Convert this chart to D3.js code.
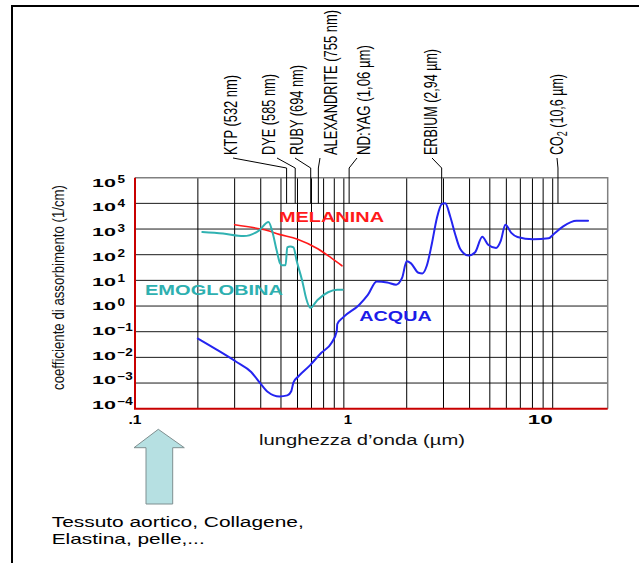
<!DOCTYPE html>
<html>
<head>
<meta charset="utf-8">
<script src="https://cdn.jsdelivr.net/npm/d3@7"></script>
<style>
  body { margin: 0; background: #fff; }
  svg { display: block; }
  text { font-family: "Liberation Sans", Arial, Helvetica, sans-serif; }
</style>
</head>
<body>
<svg id="chart" width="639" height="563"></svg>
<script>
// ---- data -------------------------------------------------------------
// wavelength axis (µm), log decades
const xDecades = [0.1, 1, 10];
const xDecadeText = [".1", "1", "10"];
const xMinor = [0.2, 0.3, 0.4, 0.5, 0.6, 0.7, 0.8, 0.9, 2, 3, 4, 5, 6, 7, 8, 9];
// absorption coefficient axis (1/cm), powers of ten
const yExponents = [5, 4, 3, 2, 1, 0, -1, -2, -3, -4];

// laser emission lines
const laserNames = ["KTP (532 nm)", "DYE (585 nm)", "RUBY (694 nm)", "ALEXANDRITE (755 nm)",
                    "ND:YAG (1,06 µm)", "ERBIUM (2,94 µm)", "CO2 (10,6 µm)"];
const laserWavelengths = [0.532, 0.585, 0.694, 0.755, 1.06, 2.94, 10.6];

// absorption spectra: [wavelength µm, coefficient 1/cm]
const melanina = [[0.30, 1480], [0.40, 1000], [0.43, 870], [0.49, 620], [0.60, 400],
                  [0.75, 170], [0.87, 75], [0.98, 37]];
const emoglobina = [[0.21, 770], [0.264, 670], [0.331, 530], [0.392, 870], [0.436, 1860],
                    [0.454, 820], [0.477, 145], [0.495, 46], [0.505, 39], [0.526, 39],
                    [0.536, 193], [0.554, 210], [0.574, 193], [0.594, 59], [0.633, 9.1],
                    [0.66, 2.0], [0.691, 0.85], [0.748, 1.73], [0.84, 3.45], [0.93, 4.3],
                    [0.987, 4.3]];
const acqua = [[0.2, 0.054], [0.246, 0.02], [0.304, 0.0069], [0.36, 0.0027], [0.4, 0.00093],
               [0.433, 0.00045], [0.492, 0.0003], [0.536, 0.00033], [0.56, 0.00048],
               [0.574, 0.00107], [0.605, 0.0018], [0.69, 0.005], [0.778, 0.0148],
               [0.874, 0.037], [0.925, 0.107], [0.93, 0.198], [0.995, 0.37], [1.183, 1.1],
               [1.303, 2.7], [1.436, 9.1], [1.614, 8.3], [1.78, 6.8], [1.9, 12.4], [2.0, 55],
               [2.097, 46], [2.275, 19.8], [2.377, 18.6], [2.495, 37], [2.637, 260],
               [2.788, 2650], [2.946, 9500], [3.056, 10000], [3.231, 3080], [3.415, 616],
               [3.608, 168], [3.956, 93], [4.254, 125], [4.601, 500], [4.91, 244],
               [5.357, 183], [5.64, 345], [5.938, 1475], [6.335, 707], [6.782, 488],
               [8.05, 400], [9.56, 435], [10.07, 616], [11.23, 1270], [13.01, 2100],
               [14.77, 2100]];

// ---- layout -----------------------------------------------------------
const svg = d3.select("#chart");
const x = d3.scaleLog().domain([0.1, 18.34]).range([135, 607.7]);
const y = d3.scaleLog().domain([1e-4, 1e5]).range([408.7, 177.7]);
const [x0, x1] = x.range();
const [yBot, yTop] = y.range();

// text with a horizontal stretch (sx) and optional vertical orientation;
// w is the final on-screen length along the reading direction
function label(parent, str, o) {
  const sx = o.sx || 1;
  const t = parent.append("text")
    .attr("transform", `translate(${o.x},${o.y}) scale(${sx},1)` + (o.rot ? " rotate(-90)" : ""))
    .attr("font-size", o.size)
    .attr("text-anchor", o.anchor || "start");
  if (o.weight) t.attr("font-weight", o.weight);
  t.attr("fill", o.fill || "#000");
  if (str !== null) t.text(str);
  if (o.w) t.attr("textLength", o.rot ? o.w : o.w / sx).attr("lengthAdjust", "spacingAndGlyphs");
  return t;
}

// page frame
svg.append("path").attr("d", "M12,570 V6 H650")
  .attr("fill", "none").attr("stroke", "#000").attr("stroke-width", 2);

// ---- grid -------------------------------------------------------------
const grid = svg.append("g");
grid.selectAll("line.h").data(yExponents.filter(e => e < 5 && e > -4)).join("line")
  .attr("x1", x0).attr("x2", x1)
  .attr("y1", e => y(Math.pow(10, e))).attr("y2", e => y(Math.pow(10, e)))
  .attr("stroke", "#1a1a1a").attr("stroke-width", 1);
grid.selectAll("line.v").data(xMinor.concat([1, 10])).join("line")
  .attr("x1", d => x(d)).attr("x2", d => x(d))
  .attr("y1", yTop).attr("y2", yBot)
  .attr("stroke", "#000").attr("stroke-width", 1);
// top and right border
grid.append("path").attr("d", `M${x0},${yTop} H${x1} V${yBot}`)
  .attr("fill", "none").attr("stroke", "#808080").attr("stroke-width", 1.5);
// axes in red
grid.append("path").attr("d", `M${x0},${yTop} V${yBot} H${x1}`)
  .attr("fill", "none").attr("stroke", "#c80000").attr("stroke-width", 2);

// ---- y tick labels ----------------------------------------------------
const labelRow = d3.scaleLinear().domain([5, -4]).range([186.7, 409]);
const yl = svg.append("g");
yExponents.forEach(e => {
  const yb = labelRow(e);
  label(yl, "10", { x: 92, y: yb, size: 10.5, weight: "bold", sx: 2.05 });
  const sup = e < 0 ? "\u2212" + (-e) : String(e);
  label(yl, sup, { x: 117.5, y: yb - 4, size: 10, weight: "bold", sx: 1.35 });
});

// y title
label(svg, "coefficiente di assorbimento (1/cm)",
      { x: 63.5, y: 287.5, size: 13, sx: 1.3, rot: true, anchor: "middle", w: 205, fill: "#111" });

// ---- x tick labels ----------------------------------------------------
const xAnchor = ["middle", "start", "end"];
const xStretch = [1.25, 1.2, 1.8];
xDecades.forEach((v, i) => {
  label(svg, xDecadeText[i], { x: x(v), y: 424, size: 12.5, weight: "bold",
                               anchor: xAnchor[i], sx: xStretch[i] });
});
label(svg, "lunghezza d\u2019onda (\u00b5m)",
      { x: 362, y: 445, size: 15, anchor: "middle", sx: 1.35, w: 206, fill: "#111" });

// ---- laser lines ------------------------------------------------------
const labelCol = [237, 275, 303, 337, 370, 437, 563];
const labelLen = [80, 81, 90, 145, 110, 106, 81];
const leadFrom = [233, 277, 295, 320, 357, 432, 557];
const lz = svg.append("g");
laserWavelengths.forEach((w, i) => {
  const tx = x(w);
  lz.append("path")
    .attr("d", `M${leadFrom[i]},158 L${tx},168 V${y(1e4)}`)
    .attr("fill", "none").attr("stroke", "#000").attr("stroke-width", 1);
  const name = laserNames[i];
  const isCO2 = name.startsWith("CO2");
  const t = label(lz, isCO2 ? null : name,
                  { x: labelCol[i], y: 155, size: 13, sx: 1.45, rot: true, w: labelLen[i] });
  if (isCO2) {
    t.append("tspan").text("CO");
    t.append("tspan").attr("font-size", 9.5).attr("dy", 3).text("2");
    t.append("tspan").attr("dy", -3).text(name.slice(3));
  }
});

// ---- spectra ----------------------------------------------------------
const line = d3.line().x(d => x(d[0])).y(d => y(d[1])).curve(d3.curveMonotoneX);
const curves = svg.append("g").attr("fill", "none")
  .attr("stroke-linejoin", "round").attr("stroke-linecap", "round");
curves.append("path").datum(melanina).attr("d", line)
  .attr("stroke", "#ff1a1a").attr("stroke-width", 1.6);
curves.append("path").datum(emoglobina).attr("d", line)
  .attr("stroke", "#30b2b2").attr("stroke-width", 2);
curves.append("path").datum(acqua).attr("d", line)
  .attr("stroke", "#2424f0").attr("stroke-width", 2);

// series names
label(svg, "MELANINA", { x: 279, y: 222.3, size: 15, weight: "bold", sx: 1.33, w: 105, fill: "#ff1a1a" });
label(svg, "EMOGLOBINA", { x: 145, y: 295, size: 14, weight: "bold", sx: 1.43, w: 138, fill: "#2eb0b0" });
label(svg, "ACQUA", { x: 359.3, y: 320.7, size: 14, weight: "bold", sx: 1.41, w: 72.4, fill: "#1c1ce8" });

// ---- UV arrow and note ------------------------------------------------
svg.append("path")
  .attr("d", "M158.3,429.3 L184.3,447.7 H172.7 V504 H146 V447.7 H134 Z")
  .attr("fill", "#b6e0e2").attr("stroke", "#7f8f90").attr("stroke-width", 1);
label(svg, "Tessuto aortico, Collagene,", { x: 51.7, y: 526.7, size: 14, sx: 1.48, w: 252 });
label(svg, "Elastina, pelle,...", { x: 51.7, y: 544, size: 14, sx: 1.49, w: 153 });
</script>
</body>
</html>
